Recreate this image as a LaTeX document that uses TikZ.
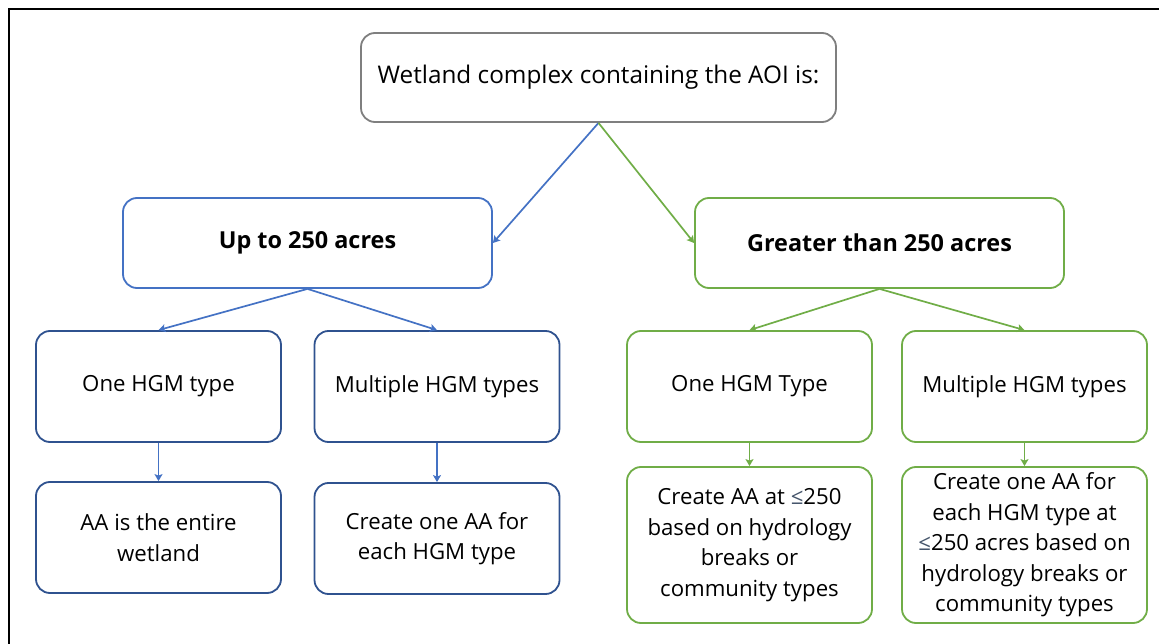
\documentclass[tikz,border=0pt]{standalone}
\usepackage{fontspec}
\setmainfont{Open Sans}
\usetikzlibrary{arrows.meta}

\definecolor{topgray}{HTML}{7F7F7F}
\definecolor{midblue}{HTML}{4472C4}
\definecolor{darkblue}{HTML}{2F528F}
\definecolor{midgreen}{HTML}{70AD47}
\definecolor{symblue}{HTML}{44546A}

\tikzset{
  box/.style={rounded corners=14pt, line width=1.8pt, inner sep=2pt,
    align=center, text=black, font=\fontsize{22.2}{30.5}\selectfont},
  leftbox/.style={box, draw=darkblue, minimum width=245pt, minimum height=111pt},
  rightbox/.style={box, draw=midgreen, minimum width=245pt, minimum height=111pt},
  link/.style={line width=1.7pt, -{Stealth[length=7pt,width=8pt,inset=1.5pt]}}
}

\newcommand{\lequal}{\textcolor{symblue}{≤}}

\begin{document}
\begin{tikzpicture}[x=1pt,y=-1pt]
  \useasboundingbox (0,0) rectangle (1159,644);
  \draw[line width=2pt] (9,644) -- (9,9) -- (1159,9);

  % question and the two size classes
  \node[box, draw=topgray, minimum width=475pt, minimum height=89pt,
    font=\fontsize{24.3}{28}\selectfont] (aoi) at (598.5,77.5)
    {Wetland complex containing the AOI is:};
  \node[box, draw=midblue, minimum width=369pt, minimum height=90pt,
    font=\fontsize{23.4}{26}\selectfont\bfseries] (small) at (307.5,243) {Up to 250 acres};
  \node[box, draw=midgreen, minimum width=369pt, minimum height=90pt,
    font=\fontsize{23.4}{26}\selectfont\bfseries] (large) at (879.5,243) {Greater than 250 acres};

  % HGM types
  \node[leftbox] (sone) at (158.5,386.5) {One HGM type};
  \node[leftbox] (smulti) at (437,386.5) {Multiple HGM types};
  \node[rightbox] (lone) at (749.5,386.5) {One HGM Type};
  \node[rightbox] (lmulti) at (1024.5,386.5) {Multiple HGM types};

  % assessment areas
  \node[leftbox] (sentire) at (158.5,537.5) {AA is the entire\\wetland};
  \node[leftbox] (seach) at (437,538.5) {Create one AA for\\each HGM type};
  \node[rightbox, minimum height=156pt] (lbreak) at (749.5,545)
    {Create AA at \lequal250\\based on hydrology\\breaks or\\community types};
  \node[rightbox, minimum height=156pt] (leach) at (1024.5,545)
    {Create one AA for\\each HGM type at\\\lequal250 acres based on\\hydrology breaks or\\community types};

  \draw[link, midblue] (aoi.south) -- (small.east);
  \draw[link, midgreen] (aoi.south) -- (large.west);
  \draw[link, midblue] (small.south) -- (sone.north);
  \draw[link, midblue] (small.south) -- (smulti.north);
  \draw[link, midgreen] (large.south) -- (lone.north);
  \draw[link, midgreen] (large.south) -- (lmulti.north);
  \draw[link, midblue] (sone.south) -- (sentire.north);
  \draw[link, midblue] (smulti.south) -- (seach.north);
  \draw[link, midgreen] (lone.south) -- (lbreak.north);
  \draw[link, midgreen] (lmulti.south) -- (leach.north);
\end{tikzpicture}
\end{document}
